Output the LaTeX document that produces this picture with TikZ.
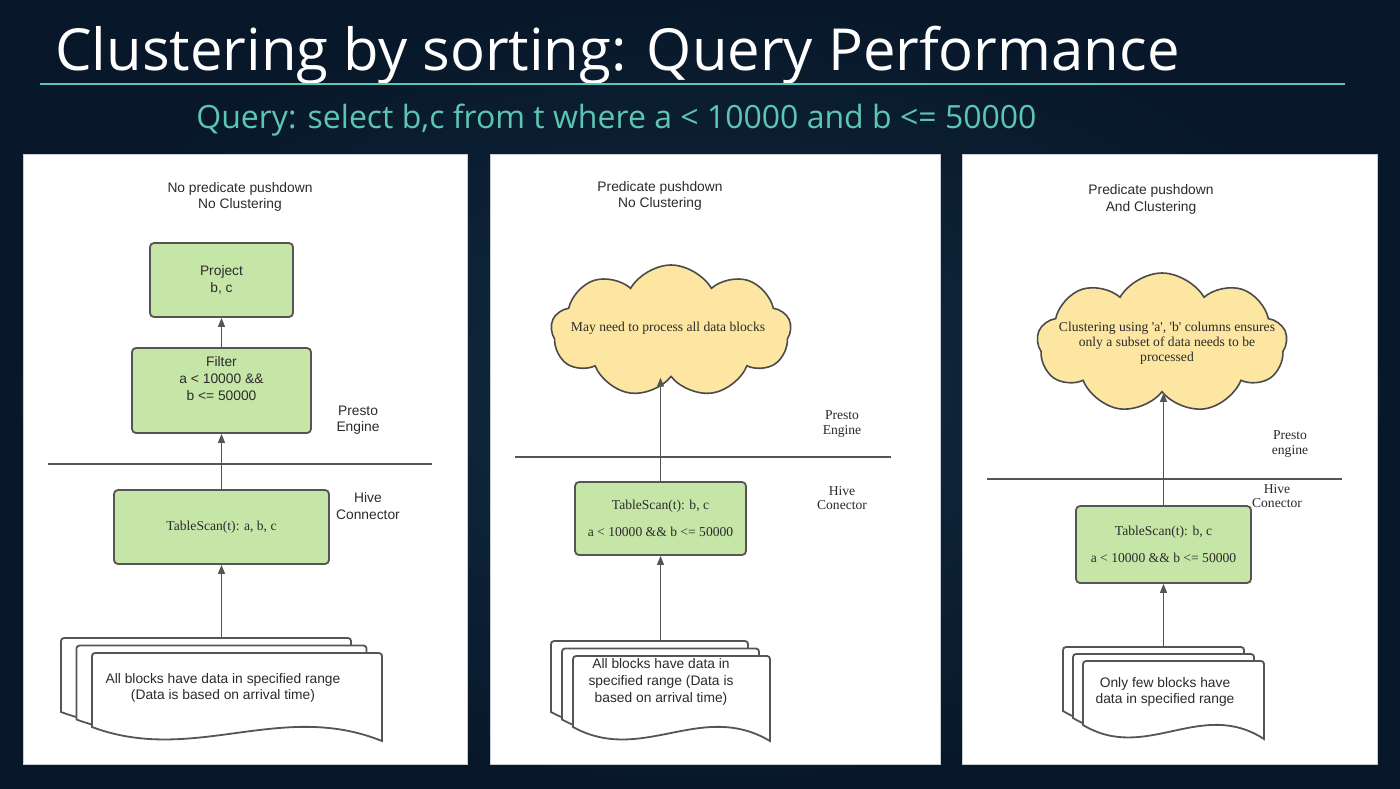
\documentclass[tikz,border=0pt]{standalone}
\usepackage{fontspec}
\newfontfamily\slidefont{Open Sans}
\newfontfamily\diagsans{Liberation Sans}
\newfontfamily\diagserif{Liberation Serif}
\usepackage{tikz}
\usetikzlibrary{calc,positioning,arrows.meta,shapes.symbols}
\definecolor{slide-in}{HTML}{122A40}
\definecolor{slide-out}{HTML}{08182A}
\definecolor{slide-teal}{HTML}{5CC6B2}
\definecolor{panel-edge}{HTML}{C9CED4}
\definecolor{ink}{HTML}{2B2B2B}
\definecolor{edge}{HTML}{555555}
\definecolor{box-green}{HTML}{C6E6A8}
\definecolor{cloud-yellow}{HTML}{FCE6A2}

\newcommand{\docsheet}[4]{%
  \draw[sheet] (#1+#3,#2+#4) [rounded corners=1.5pt] -- (#1+#3,#2) -- (#1,#2) [sharp corners] -- (#1,#2+#4-14)
    .. controls (#1+0.35*#3,#2+#4+24) and (#1+0.65*#3,#2+#4-41) .. (#1+#3,#2+#4) -- cycle;}
\newcommand{\docstack}[6]{%
  \docsheet{#1}{#2}{#3}{#4}
  \docsheet{#1+#5}{#2+#6}{#3}{#4}
  \docsheet{#1+2*#5}{#2+2*#6}{#3}{#4}}

\begin{document}
\begin{tikzpicture}[
  x=0.5pt, y=-0.5pt,
  every node/.style={align=center},
  panel/.style={fill=white, draw=panel-edge, line width=0.5pt},
  opbox/.style={rectangle, draw=edge, line width=0.9pt, rounded corners=2pt, fill=box-green},
  puff/.style={cloud, cloud puffs=9, cloud puff arc=120, aspect=1.9, draw=ink!85, line width=0.8pt, fill=cloud-yellow},
  sans/.style={font=\diagsans\fontsize{6.9}{8.3}\selectfont, text=ink, inner sep=0pt},
  serif/.style={font=\diagserif\fontsize{6.8}{7.4}\selectfont, text=ink, inner sep=0pt},
  sheet/.style={fill=white, draw=edge, line width=0.9pt},
  divider/.style={draw=edge, line width=0.6pt},
  arrow/.style={-{Triangle[length=4.5pt,width=3.5pt]}, line width=0.6pt, edge}
]
  \useasboundingbox (0,0) rectangle (1400,788);
  \shade[inner color=slide-in, outer color=slide-out] (0,0) rectangle (1400,788);

  \node[font=\slidefont\fontsize{29}{31}\selectfont, text=white, anchor=base west, inner sep=0pt] (title) at (55,70) {Clustering by sorting: Query Performance};
  \draw[slide-teal, line width=1pt] (40,84) -- (1345,84);
  \node[font=\slidefont\fontsize{16}{18}\selectfont, text=slide-teal, anchor=base west, inner sep=0pt] (query) at (196,128) {Query: select b,c from t where a < 10000 and b <= 50000};

  \draw[panel] (23,154) rectangle (467,764);
  \draw[panel] (490,154) rectangle (940,764);
  \draw[panel] (962,154) rectangle (1377,764);

  % no pushdown, no clustering
  \node[sans] (head1) at (240,197) {No predicate pushdown\\No Clustering};
  \node[opbox, minimum width=71.5pt, minimum height=37pt] (project1) at (221.5,280) {};
  \node[sans] at (project1.center) {Project\\b, c};
  \node[opbox, minimum width=89.5pt, minimum height=42.5pt] (filter1) at (221.5,390.5) {};
  \node[sans] at ([yshift=6pt]filter1.center) {Filter\\a < 10000 \&\&\\b <= 50000};
  \draw[divider] (48,464) -- (432,464);
  \node[sans] (presto1) at (358,420) {Presto\\Engine};
  \node[opbox, minimum width=107.5pt, minimum height=37pt] (scan1) at (221.5,527) {};
  \node[serif] at (scan1.center) {TableScan(t): a, b, c};
  \node[sans] (hive1) at (368,506) {Hive\\Connector};
  \docstack{61}{638}{290}{88}{15.5}{7.5}
  \coordinate (stack1) at (221.5,638);
  \node[sans] (blocks1) at (223,688) {All blocks have data in specified range\\(Data is based on arrival time)};
  \draw[arrow] (stack1) -- (scan1.south);
  \draw[arrow] (scan1.north) -- (filter1.south);
  \draw[arrow] (filter1.north) -- (project1.south);

  % pushdown, no clustering
  \node[sans] (head2) at (660,196) {Predicate pushdown\\No Clustering};
  \node[puff, minimum width=120pt, minimum height=66pt] (cloud2) at (671,331) {};
  \node[serif] at (668,328) {May need to process all data blocks};
  \draw[divider] (515,457) -- (891,457);
  \node[serif] (presto2) at (842,424) {Presto\\Engine};
  \node[opbox, minimum width=85.5pt, minimum height=36.5pt] (scan2) at (660.5,518.5) {};
  \node[serif] at (scan2.center) {TableScan(t): b, c\\[6pt]a < 10000 \&\& b <= 50000};
  \node[serif] (hive2) at (842,498) {Hive\\Conector};
  \docstack{551}{641}{197}{85}{11}{7.5}
  \coordinate (stack2) at (660.5,641);
  \node[sans] (blocks2) at (661,682) {All blocks have data in\\specified range (Data is\\based on arrival time)};
  \draw[arrow] (stack2) -- (scan2.south);
  \draw[arrow] (scan2.north) -- (scan2.north |- cloud2.south);

  % pushdown and clustering
  \node[sans] (head3) at (1151,199.5) {Predicate pushdown\\And Clustering};
  \node[puff, minimum width=125pt, minimum height=70pt] (cloud3) at (1162,343) {};
  \node[serif] at (1167,343.5) {Clustering using 'a', 'b' columns ensures\\only a subset of data needs to be\\processed};
  \draw[divider] (987,479) -- (1342,479);
  \node[serif] (presto3) at (1290,444) {Presto\\engine};
  \node[opbox, minimum width=87.5pt, minimum height=38.5pt] (scan3) at (1163.5,544.5) {};
  \node[serif] at (scan3.center) {TableScan(t): b, c\\[6pt]a < 10000 \&\& b <= 50000};
  \node[serif] (hive3) at (1277,496) {Hive\\Conector};
  \docstack{1063}{647}{181}{78}{10}{7}
  \coordinate (stack3) at (1163.5,647);
  \node[sans] (blocks3) at (1165,692) {Only few blocks have\\data in specified range};
  \draw[arrow] (stack3) -- (scan3.south);
  \draw[arrow] (scan3.north) -- (scan3.north |- cloud3.south);
\end{tikzpicture}
\end{document}
